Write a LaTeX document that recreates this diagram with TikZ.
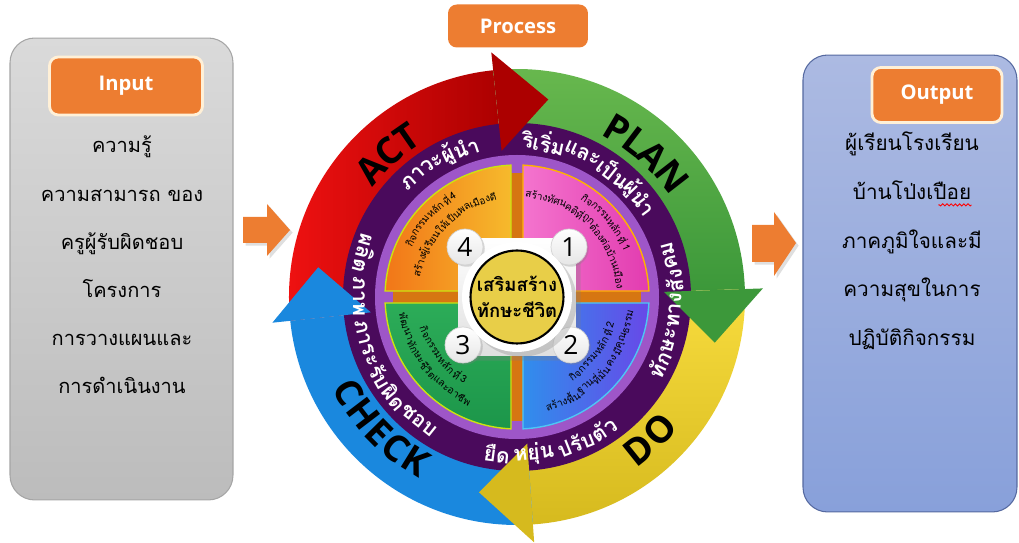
\documentclass[tikz,border=0pt]{standalone}
\usepackage{fontspec}
\setmainfont{Open Sans}
\newfontfamily\thaifont[Script=Thai]{Loma}
\usetikzlibrary{positioning,shadows,decorations.pathmorphing}

\definecolor{tagorange}{RGB}{237,125,49}
\definecolor{tagrim}{RGB}{255,240,215}
\definecolor{inboxtop}{RGB}{218,218,218}
\definecolor{inboxbot}{RGB}{188,188,188}
\definecolor{inboxrim}{RGB}{165,165,165}
\definecolor{outboxtop}{RGB}{172,186,226}
\definecolor{outboxbot}{RGB}{136,160,218}
\definecolor{outboxrim}{RGB}{85,105,160}
\definecolor{actred}{RGB}{242,18,18}
\definecolor{actdark}{RGB}{172,0,0}
\definecolor{planlight}{RGB}{104,184,78}
\definecolor{plandark}{RGB}{60,152,58}
\definecolor{dolight}{RGB}{248,220,62}
\definecolor{dodark}{RGB}{214,186,30}
\definecolor{checkblue}{RGB}{26,136,222}
\definecolor{ringdark}{RGB}{74,10,92}
\definecolor{ringlight}{RGB}{158,86,200}
\definecolor{stripe}{RGB}{214,118,18}
\definecolor{pinka}{RGB}{244,116,206}
\definecolor{pinkb}{RGB}{226,60,176}
\definecolor{bluea}{RGB}{48,142,236}
\definecolor{blueb}{RGB}{104,72,232}
\definecolor{greena}{RGB}{44,172,88}
\definecolor{greenb}{RGB}{28,150,74}
\definecolor{orangea}{RGB}{242,118,24}
\definecolor{orangeb}{RGB}{246,186,44}
\definecolor{hubyellow}{RGB}{232,206,72}

\newcommand\tagfont{\bfseries\fontsize{11.5}{14}\selectfont}
\newcommand\bodyfont{\thaifont\fontsize{11.4}{15}\selectfont}
\newcommand\outfont{\thaifont\fontsize{11.8}{15}\selectfont}
\newcommand\ringfont{\thaifont\bfseries\fontsize{12}{14}\selectfont}
\newcommand\pdcafont{\bfseries\fontsize{21}{24}\selectfont}
\newcommand\quadfont{\thaifont\fontsize{5.8}{7}\selectfont}
\newcommand\hubfont{\thaifont\bfseries\fontsize{10.5}{15}\selectfont}
\newcommand\numfont{\fontsize{15}{18}\selectfont}

% words set piece by piece round the hub
\newdimen\arcw
\newdimen\arctot
\newcommand\arctext[7]{% name, style, font, radius, mid angle, 1 ccw / -1 cw, pieces
  \global\arctot=0pt
  \foreach \ch in {#7}{\pgfinterruptpicture\setbox0=\hbox{#3\ch}\global\advance\arctot by \wd0\endpgfinterruptpicture}%
  \edef\arctotpt{\the\arctot}%
  \pgfmathsetmacro\arcfirst{#5-(#6)*\arctotpt/(#4*0.569055)*28.64789}%
  \xdef\arccur{\arcfirst}%
  \foreach \ch [count=\i] in {#7}{%
    \pgfinterruptpicture\setbox0=\hbox{#3\ch}\global\arcw=\wd0\endpgfinterruptpicture
    \edef\arcwpt{\the\arcw}%
    \pgfmathsetmacro\arcd{\arcwpt/(#4*0.569055)*57.29578}%
    \pgfmathsetmacro\arcm{\arccur+(#6)*\arcd/2}%
    \node[#2, font=#3, inner sep=0pt, rotate=\arcm+(#6)*90] (#1-\i) at (\arcm:#4) {\ch};%
    \pgfmathsetmacro\arcn{\arccur+(#6)*\arcd}%
    \xdef\arccur{\arcn}%
  }%
}

\begin{document}
\begin{tikzpicture}[x=0.02cm, y=0.02cm,
  panel/.style={draw, line width=0.6pt, rounded corners=14pt},
  tag/.style={fill=tagorange, draw=tagrim, line width=1.6pt, rounded corners=5pt,
              text=white, font=\tagfont, inner sep=0pt},
  bodyline/.style={anchor=base, inner sep=0pt, font=\bodyfont},
  blockarr/.style={fill=tagorange, drop shadow={opacity=0.25, shadow xshift=1.5pt, shadow yshift=-1.5pt}},
  ringword/.style={text=white},
  pdcaword/.style={text=black},
  quadword/.style={text=black},
  numball/.style={circle, minimum size=0.72cm, inner sep=0pt, top color=white,
                  bottom color=gray!20, draw=gray!35, font=\numfont,
                  drop shadow={opacity=0.3, shadow xshift=1pt, shadow yshift=-1pt}}]
\useasboundingbox (0,0) rectangle (1019,-543);

% input
\node[panel, top color=inboxtop, bottom color=inboxbot, draw=inboxrim,
      minimum width=4.46cm, minimum height=9.24cm] (inpanel) at (121.5,-269) {};
\node[tag, minimum width=3.06cm, minimum height=1.16cm] (intag) at (126,-86) {Input};
\foreach \t [count=\i] in {ความรู้,ความสามารถ ของ,ครูผู้รับผิดชอบ,โครงการ,การวางแผนและ,การดำเนินงาน}
  \node[bodyline] (in\i) at (122,{-153-48.2*(\i-1)}) {\t};

% output
\node[panel, top color=outboxtop, bottom color=outboxbot, draw=outboxrim,
      minimum width=4.28cm, minimum height=9.14cm] (outpanel) at (910,-283.5) {};
\node[tag, minimum width=2.6cm, minimum height=1.1cm] (outtag) at (937,-95) {Output};
\foreach \t [count=\i] in {ผู้เรียนโรงเรียน,บ้านโป่งเปือย,ภาคภูมิใจและมี,ความสุขในการ,ปฏิบัติกิจกรรม}
  \node[bodyline, font=\outfont] (out\i) at (912,{-151-48.6*(\i-1)}) {\t};
\draw[red, line width=0.5pt, decorate, decoration={snake, amplitude=0.6pt, segment length=2.4pt}]
  ([yshift=-3pt]out2.base east) -- ([yshift=-3pt, xshift=-0.66cm]out2.base east);

% process
\node[tag, draw=none, minimum width=2.8cm, minimum height=0.86cm] (proctag) at (518,-26) {Process};
\fill[blockarr] (243,-217) -- (267,-217) -- (267,-204) -- (290,-230) -- (267,-256) -- (267,-243) -- (243,-243) -- cycle;
\fill[blockarr] (752,-225) -- (774,-225) -- (774,-212) -- (796,-243) -- (774,-276) -- (774,-262) -- (752,-262) -- cycle;

\begin{scope}[shift={(517,-297)}]
% PDCA bodies
\shade[left color=actred, right color=actdark]
  (186:165) arc[start angle=186, end angle=96, radius=165] -- (96:228) arc[start angle=96, end angle=186, radius=228] -- cycle;
\shade[top color=planlight, bottom color=plandark]
  (96:165) arc[start angle=96, end angle=2, radius=165] -- (2:228) arc[start angle=2, end angle=96, radius=228] -- cycle;
\shade[top color=dolight, bottom color=dodark]
  (2:165) arc[start angle=2, end angle=-86, radius=165] -- (-86:228) arc[start angle=-86, end angle=2, radius=228] -- cycle;
\fill[checkblue]
  (274:165) arc[start angle=274, end angle=186, radius=165] -- (186:228) arc[start angle=186, end angle=274, radius=228] -- cycle;
\fill[ringdark] (0,0) circle[radius=174];
% PDCA heads
\fill[actdark] (96:147) -- (81:200) -- (96:246) -- cycle;
\fill[plandark] (2:147) -- (-13:203) -- (2:246) -- cycle;
\fill[dodark] (-86:147) -- (-101:199) -- (-86:246) -- cycle;
\fill[checkblue] (186:147) -- (171.5:201) -- (186:246) -- cycle;

\fill[ringlight] (0,0) circle[radius=142];
\fill[stripe] (-6,-124) rectangle (6,124);
\fill[stripe] (-124,-6) rectangle (124,6);

% quadrants
\shade[left color=pinka, right color=pinkb, draw=orange!60!yellow, line width=0.8pt]
  (6,6) -- (87.4:132) arc[start angle=87.4, end angle=2.6, radius=132] -- cycle;
\shade[left color=bluea, right color=blueb, draw=cyan!70, line width=0.8pt]
  (6,-6) -- (-2.6:132) arc[start angle=-2.6, end angle=-87.4, radius=132] -- cycle;
\shade[top color=greena, bottom color=greenb, draw=yellow!80!green, line width=0.8pt]
  (-6,-6) -- (-92.6:132) arc[start angle=-92.6, end angle=-177.4, radius=132] -- cycle;
\shade[left color=orangea, right color=orangeb, draw=yellow!80!green, line width=0.8pt]
  (-6,6) -- (177.4:132) arc[start angle=177.4, end angle=92.6, radius=132] -- cycle;

% labels on the rings
\arctext{act}{pdcaword}{\pdcafont}{194}{132}{-1}{A,C,T}
\arctext{plan}{pdcaword}{\pdcafont}{196}{48}{-1}{P,L,A,N}
\arctext{do}{pdcaword}{\pdcafont}{195}{-47}{1}{D,O}
\arctext{check}{pdcaword}{\pdcafont}{193}{224}{1}{C,H,E,C,K}
\arctext{lead}{ringword}{\ringfont}{158}{120}{-1}{ภา,วะ,ผู้,นำ}
\arctext{init}{ringword}{\ringfont}{158}{60}{-1}{ริ,เริ่ม,และ,เป็น,ผู้,นำ}
\arctext{social}{ringword}{\ringfont}{158}{-5}{1}{ทัก,ษะ,ทาง,สัง,คม}
\arctext{adapt}{ringword}{\ringfont}{158}{-77}{1}{ยืด,หยุ่น\ ,ปรับ,ตัว}
\arctext{resp}{ringword}{\ringfont}{158}{198}{1}{ผลิต,ภาพ\ ,ภา,ระ,รับ,ผิด,ชอบ}
% main activities
\arctext{qa}{quadword}{\quadfont}{120}{40}{-1}{กิจ,กรรม,หลัก,ที่\ ,1}
\arctext{qb}{quadword}{\quadfont}{104}{45}{-1}{สร้าง,ทัศ,น,คติ,ที่,ถูก,ต้อง,ต่อ,บ้าน,เมือง}
\arctext{qc}{quadword}{\quadfont}{97}{-36}{1}{กิจ,กรรม,หลัก,ที่\ ,2}
\arctext{qd}{quadword}{\quadfont}{114}{-41}{1}{สร้าง,พื้น,ฐาน,ที่,มั่น,คง\ ,มี,คุณ,ธรรม}
\arctext{qe}{quadword}{\quadfont}{98}{218}{1}{กิจ,กรรม,หลัก,ที่\ ,3}
\arctext{qf}{quadword}{\quadfont}{115}{217}{1}{พัฒ,นา,ทัก,ษะ,ชี,วิต,และ,อา,ชีพ}
\arctext{qg}{quadword}{\quadfont}{120}{138}{-1}{กิจ,กรรม,หลัก,ที่\ ,4}
\arctext{qh}{quadword}{\quadfont}{103}{135}{-1}{สร้าง,ผู้,เรียน,ให้,เป็น,พล,เมือง,ดี}

% hub
\node[rounded corners=3pt, minimum size=2.36cm, top color=white, bottom color=gray!25,
      drop shadow={opacity=0.3}] (hubsquare) at (0,0) {};
\node[numball] (n1) at (52,50) {1};
\node[numball] (n2) at (54,-48) {2};
\node[numball] (n3) at (-54,-48) {3};
\node[numball] (n4) at (-52,50) {4};
\node[circle, fill=white, minimum size=2.2cm, drop shadow={opacity=0.3}] (hubring) at (0,0) {};
\node[circle, fill=hubyellow, draw=black, line width=1.2pt, minimum size=1.86cm,
      align=center, font=\hubfont, inner sep=0pt] (hub) at (0,0) {เสริมสร้าง\\ทักษะชีวิต};
\end{scope}
\end{tikzpicture}
\end{document}
